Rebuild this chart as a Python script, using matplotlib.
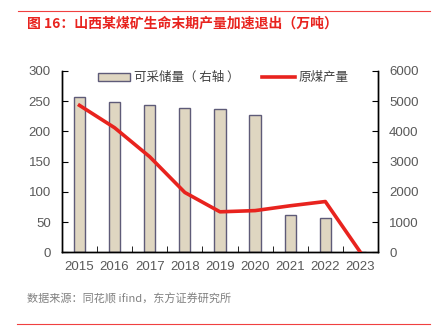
import matplotlib
matplotlib.use("Agg")
import matplotlib.pyplot as plt
import numpy as np

plt.rcParams['font.family'] = ['Liberation Sans', 'Noto Sans CJK SC', 'DejaVu Sans']

# data
years = ['2015', '2016', '2017', '2018', '2019', '2020', '2021', '2022', '2023']
output = [243, 206, 158, 99, 67, 69, 77, 84, 0]            # 原煤产量 (left)
reserves = [5130, 4985, 4875, 4785, 4745, 4545, 1235, 1145, 0]  # 可采储量 (right)

red = '#E8231E'
grey = '#595959'

fig = plt.figure(figsize=(4.33, 3.36), dpi=100)
ax = fig.add_axes([0.143, 0.249, 0.730, 0.540])
ax2 = ax.twinx()

x = np.arange(len(years))
b = ax2.bar(x, reserves, width=0.32, color='#DFD6C1', edgecolor='#5E5B78', linewidth=1.0,
            label='可采储量（右轴）', zorder=2)
ln, = ax.plot(x, output, color=red, linewidth=2.6, label='原煤产量', zorder=5)
ax.set_zorder(ax2.get_zorder() + 1)
ax.patch.set_visible(False)

ax.set_xlim(-0.5, len(years) - 0.5)
ax.set_ylim(0, 300)
ax2.set_ylim(0, 6000)
ax.set_yticks(range(0, 301, 50))
ax2.set_yticks(range(0, 6001, 1000))

ax.set_xticks(x)
ax.set_xticklabels(years)
ax.set_xticks(np.arange(-0.5, len(years), 1.0), minor=True)
ax.tick_params(axis='x', which='major', length=0, pad=6, labelsize=9.5, labelcolor=grey)
ax.tick_params(axis='x', which='minor', direction='in', length=4, color='black')
ax.tick_params(axis='y', direction='in', length=4, labelsize=9.5, labelcolor=grey, pad=8)
ax2.tick_params(axis='y', direction='in', length=4, labelsize=9.5, labelcolor=grey, pad=8)

for a in (ax, ax2):
    a.spines['top'].set_visible(False)
    for s in ('left', 'right', 'bottom'):
        a.spines[s].set_color('black')
        a.spines[s].set_linewidth(1.0)

ax.legend([b, ln], ['可采储量（ 右轴 ）', '原煤产量'], loc='upper center',
          bbox_to_anchor=(0.51, 1.06), ncol=2, frameon=False,
          handlelength=2.6, columnspacing=1.8, handletextpad=0.3,
          labelcolor='#404040', prop={'family': ['Noto Sans CJK SC', 'DejaVu Sans'], 'size': 9})

# header and footer
fig.add_artist(plt.Line2D([18 / 433, 430 / 433], [1 - 11 / 336, 1 - 11 / 336], color='#F04040', linewidth=0.8))
fig.text(27 / 433, 1 - 24 / 336, '图 16：山西某煤矿生命末期产量加速退出（万吨）', color=red,
         fontsize=10, fontweight='bold', va='center', ha='left',
         family=['Noto Sans CJK SC', 'DejaVu Sans'])
fig.text(27 / 433, 1 - 299 / 336, '数据来源：同花顺 ifind，东方证券研究所', color='#808080',
         fontsize=8, va='center', ha='left', family=['Noto Sans CJK SC', 'DejaVu Sans'])
fig.add_artist(plt.Line2D([17 / 433, 430 / 433], [1 - 324 / 336, 1 - 324 / 336], color='#F04040', linewidth=0.8))

fig.savefig('out.png', dpi=100)
